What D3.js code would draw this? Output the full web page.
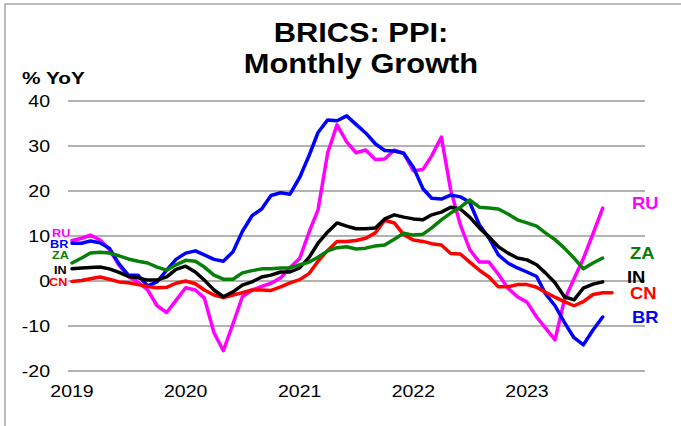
<!DOCTYPE html>
<html>
<head>
<meta charset="utf-8">
<style>
  body { margin: 0; background: #fff; }
  svg text { font-family: "Liberation Sans", Arial, sans-serif; }
</style>
</head>
<body>
<div id="chart"></div>
<script src="https://cdn.jsdelivr.net/npm/d3@7"></script>
<script>
// monthly PPI % YoY, Jan 2019 onwards
var RU = [9.0, 9.5, 10.2, 9.1, 7.0, 3.5, 1.0, -0.3, -2.0, -5.5,
          -7.0, -4.3, -1.5, -2.0, -3.8, -11.5, -15.5, -9.5, -3.5, -2.0,
          -1.2, -0.5, 0.7, 3.0, 5.0, 11.0, 15.8, 28.5, 34.7, 30.9,
          28.5, 29.1, 27.0, 27.1, 29.1, 28.4, 24.5, 24.8, 27.8, 32.0,
          20.2, 12.5, 7.0, 4.2, 4.2, 1.5, -1.6, -3.5, -4.7, -8.0,
          -10.4, -13.1, -4.2, 0.5, 5.0, 10.5, 16.2];
var BR = [8.4, 8.4, 8.9, 8.5, 7.3, 3.8, 1.3, 1.3, -1.1, -0.2,
          2.4, 4.8, 6.2, 6.7, 5.8, 4.8, 4.4, 6.5, 11.0, 14.5,
          16.0, 19.0, 19.6, 19.3, 23.0, 28.0, 33.0, 35.8, 35.6, 36.7,
          34.8, 32.9, 30.5, 29.0, 28.9, 28.4, 25.3, 20.5, 18.4, 18.2,
          19.1, 18.7, 17.5, 12.5, 9.5, 5.8, 4.0, 2.9, 2.0, 1.0,
          -2.8, -5.5, -9.2, -12.6, -14.2, -10.9, -8.0];
var ZA = [4.0, 5.1, 6.2, 6.4, 6.2, 5.6, 4.9, 4.4, 4.0, 3.1,
          2.4, 3.6, 4.6, 4.4, 3.1, 1.3, 0.4, 0.4, 1.8, 2.3,
          2.7, 2.7, 2.9, 2.9, 3.6, 4.2, 5.3, 6.7, 7.4, 7.6,
          7.1, 7.3, 7.8, 8.0, 9.3, 10.6, 10.2, 10.4, 11.8, 13.6,
          15.1, 16.4, 18.0, 16.4, 16.2, 16.0, 14.9, 13.6, 12.9, 12.2,
          10.7, 9.2, 7.3, 5.1, 2.7, 4.0, 5.1];
var IN = [2.7, 2.9, 3.0, 3.1, 2.7, 1.9, 1.0, 0.7, 0.2, 0.2,
          0.9, 2.6, 3.3, 2.0, 0.2, -2.0, -3.5, -2.4, -0.9, -0.2,
          0.9, 1.3, 2.0, 2.0, 2.9, 5.3, 8.4, 10.9, 12.9, 12.2,
          11.6, 11.6, 11.8, 13.8, 14.7, 14.2, 13.8, 13.6, 14.7, 15.3,
          16.4, 16.0, 14.2, 11.8, 9.8, 7.6, 6.2, 5.1, 4.7, 3.6,
          1.8, -0.4, -3.5, -4.2, -1.6, -0.7, -0.2];
var CN = [-0.1, 0.1, 0.5, 0.9, 0.4, -0.2, -0.4, -0.8, -1.2, -1.5,
          -1.4, -0.5, 0.0, -0.6, -2.0, -3.1, -3.7, -3.1, -2.6, -2.0,
          -2.0, -2.1, -1.3, -0.4, 0.3, 1.7, 4.4, 6.8, 8.8, 8.8,
          9.0, 9.5, 10.7, 13.5, 12.9, 10.3, 9.1, 8.8, 8.3, 8.0,
          6.1, 6.0, 4.2, 2.4, 0.9, -1.3, -1.3, -0.8, -0.8, -1.4,
          -2.5, -3.6, -4.6, -5.5, -4.6, -3.0, -2.6, -2.6];

var yTicks = [-20, -10, 0, 10, 20, 30, 40];
var yearLabels = ["2019", "2020", "2021", "2022", "2023"];

var seriesNames = ["RU", "BR", "ZA", "IN", "CN"];
var seriesData = [RU, BR, ZA, IN, CN];
var colors = { RU: "#ff00ff", BR: "#0000ff", ZA: "#078007", IN: "#000000", CN: "#ff0000" };

var width = 681, height = 426;
var months = d3.timeMonths(new Date(2019, 0, 1), new Date(2023, 10, 1));

var svg = d3.select("#chart").append("svg")
    .attr("width", width)
    .attr("height", height);

// chart frame (left + top only visible)
svg.append("path")
    .attr("d", "M5,426V4H681")
    .attr("fill", "none")
    .attr("stroke", "#a6a6a6")
    .attr("stroke-width", 1.5);

var x = d3.scaleTime()
    .domain([new Date(2019, 0, 1), new Date(2023, 0, 1)])
    .range([72, 527]);
var y = d3.scaleLinear().domain([-20, 40]).range([371, 101]);

var gridX0 = 68, gridX1 = 645;

// text is slightly stretched horizontally in the original
function label(txt, px, py, size, opts) {
    opts = opts || {};
    return svg.append("text")
        .attr("transform", "translate(" + px + "," + py + ") scale(" + (opts.sx || 1.2) + ",1)")
        .attr("text-anchor", opts.anchor || "start")
        .attr("font-size", size)
        .attr("font-weight", opts.bold ? "bold" : "normal")
        .attr("fill", opts.fill || "#000")
        .text(txt);
}

// gridlines
svg.append("g").selectAll("line")
    .data(yTicks)
    .enter().append("line")
    .attr("x1", gridX0).attr("x2", gridX1)
    .attr("y1", d => y(d)).attr("y2", d => y(d))
    .attr("stroke", "#999")
    .attr("stroke-width", 1.5);

yTicks.forEach(function (t) {
    label(String(t), 50, y(t) + 6, 16, { anchor: "end", sx: 1.22 });
});

yearLabels.forEach(function (yr) {
    label(yr, x(new Date(+yr, 0, 1)), 397, 16, { anchor: "middle", sx: 1.22 });
});

// titles
label("BRICS: PPI:", 361, 42, 28, { anchor: "middle", bold: true, sx: 1.1 });
label("Monthly Growth", 361, 73, 28, { anchor: "middle", bold: true, sx: 1.1 });
label("% YoY", 22, 84, 16, { bold: true, sx: 1.3 });

// lines
var line = d3.line()
    .x((d, i) => x(months[i]))
    .y(d => y(d));

var drawOrder = ["RU", "BR", "CN", "IN", "ZA"];
drawOrder.forEach(function (name) {
    var data = seriesData[seriesNames.indexOf(name)];
    svg.append("path")
        .datum(data)
        .attr("d", line)
        .attr("fill", "none")
        .attr("stroke", colors[name])
        .attr("stroke-width", 3.5)
        .attr("stroke-linejoin", "round")
        .attr("stroke-linecap", "round");
});

// left-side small labels (stacked tightly, as in the original)
var leftLabels = [
    { n: "RU", x: 52, y: 237 },
    { n: "BR", x: 50, y: 248 },
    { n: "ZA", x: 52, y: 259 },
    { n: "IN", x: 54, y: 274 },
    { n: "CN", x: 49, y: 286 }
];
leftLabels.forEach(function (d) {
    label(d.n, d.x, d.y, 11, { bold: true, fill: colors[d.n], sx: 1.15 });
});

// right-side labels
var rightLabels = [
    { n: "RU", x: 632, y: 209 },
    { n: "ZA", x: 630, y: 259 },
    { n: "IN", x: 627, y: 283 },
    { n: "CN", x: 630, y: 299 },
    { n: "BR", x: 632, y: 323 }
];
rightLabels.forEach(function (d) {
    label(d.n, d.x, d.y, 16, { bold: true, fill: colors[d.n], sx: 1.15 });
});
</script>
</body>
</html>
